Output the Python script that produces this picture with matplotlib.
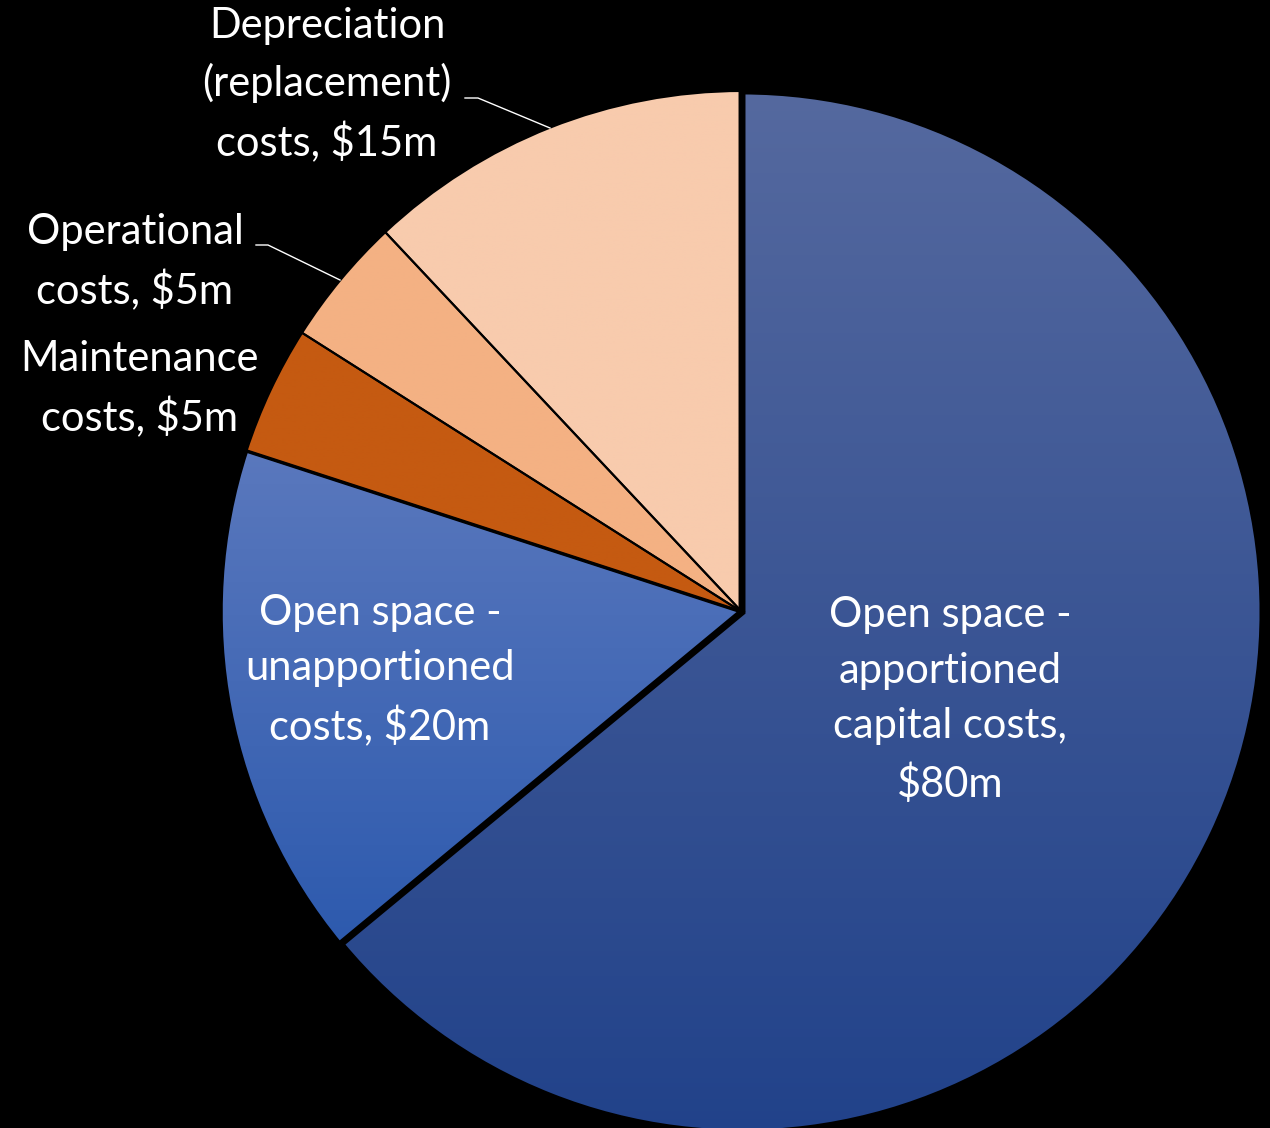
import numpy as np
import matplotlib.pyplot as plt
from matplotlib.colors import LinearSegmentedColormap

# data
labels = ['Open space -\napportioned\ncapital costs,\n$80m',
          'Open space -\nunapportioned\ncosts, $20m',
          'Maintenance\ncosts, $5m',
          'Operational\ncosts, $5m',
          'Depreciation\n(replacement)\ncosts, $15m']
values = [80, 20, 5, 5, 15]
top_colors = ['#55699f', '#5a78bd', '#c55a11', '#f4b183', '#f8cbad']
bottom_colors = ['#21428a', '#2d5aae', '#c55a11', '#f4b183', '#f8cbad']

W, H = 1270, 1128
cx, cy, r = 742, H - 612, 521

fig = plt.figure(figsize=(12.7, 11.28), dpi=100, facecolor='black')
ax = fig.add_axes([0, 0, 1, 1])
ax.set_facecolor('black')

wedges, _ = ax.pie(values, startangle=90, counterclock=False, center=(cx, cy),
                   radius=r, explode=[0.008, 0, 0, 0, 0], frame=True,
                   wedgeprops=dict(edgecolor='black', linewidth=1.5))
ax.set_xlim(0, W)
ax.set_ylim(0, H)
ax.set_aspect('equal')
ax.axis('off')

# gradient fill per slice
for i, w in enumerate(wedges):
    w.set_facecolor('none')
    verts = w.get_path().vertices
    x0, y0 = verts.min(axis=0)
    x1, y1 = verts.max(axis=0)
    cmap = LinearSegmentedColormap.from_list('g%d' % i, [bottom_colors[i], top_colors[i]])
    grad = np.linspace(0, 1, 256).reshape(-1, 1)
    im = ax.imshow(grad, cmap=cmap, origin='lower', aspect='auto',
                   extent=[x0, x1, y0, y1], zorder=1)
    im.set_clip_path(w)
    w.set_zorder(2)

wedges[0].set_linewidth(5)
wedges[1].set_linewidth(2.5)
wedges[2].set_linewidth(1.5)

fs = 30
font = 'Lato'
ls = 1.55
# inner labels
ax.text(950, H - 700, labels[0], color='white', fontsize=fs, family=font,
        ha='center', va='center', linespacing=ls)
ax.text(380, H - 671, labels[1], color='white', fontsize=fs, family=font,
        ha='center', va='center', linespacing=ls)
# outer labels
ax.text(140, H - 389, labels[2], color='white', fontsize=fs, family=font,
        ha='center', va='center', linespacing=ls)
ax.text(135, H - 262, labels[3], color='white', fontsize=fs, family=font,
        ha='center', va='center', linespacing=ls)
ax.text(327, H - 85, labels[4], color='white', fontsize=fs, family=font,
        ha='center', va='center', linespacing=ls)

# leader lines
ax.plot([256, 268, 340], [H - 245, H - 245, H - 280], color='white', lw=1, zorder=3)
ax.plot([465, 478, 550], [H - 98, H - 98, H - 128], color='white', lw=1, zorder=3)

fig.savefig('out.png', dpi=100, facecolor='black')
